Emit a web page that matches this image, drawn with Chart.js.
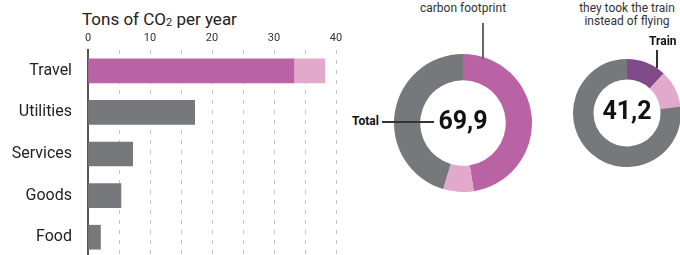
<!DOCTYPE html>
<html>
<head>
<meta charset="utf-8">
<script src="https://cdn.jsdelivr.net/npm/chart.js@4"></script>
<style>
  html, body { margin: 0; padding: 0; width: 680px; height: 255px; overflow: hidden; background: #fff; }
  body { position: relative; font-family: Roboto, "Noto Sans", sans-serif; color: #222; }
  .abs { position: absolute; }
  .note { font-size: 12px; color: #333; text-align: center; line-height: 13px; white-space: nowrap; }
  .bold { font-weight: bold; color: #111; }
  .big { font-size: 25px; font-weight: bold; color: #111; text-align: center; }
  .line { background: #333; }
  .sub { font-size: 11px; position: relative; top: 1px; }
</style>
</head>
<body>
<div class="abs" style="left:82px; top:9px; font-size:17px; color:#222; white-space:nowrap;">Tons of CO<span class="sub">2</span> per year</div>
<canvas id="bars" class="abs" style="left:0; top:0;" width="345" height="265"></canvas>

<canvas id="donut1" class="abs" style="left:394px; top:54px;" width="138" height="138"></canvas>
<div class="abs note" style="left:403px; top:2px; width:120px;">carbon footprint</div>
<div class="abs" style="left:482px; top:23px; width:2px; height:36px; background:#666;"></div>
<div class="abs bold" style="left:352px; top:114px; font-size:12px;">Total</div>
<div class="abs line" style="left:382px; top:121px; width:52px; height:1.5px;"></div>
<div class="abs big" style="left:423px; top:106px; width:80px;">69,9</div>

<canvas id="donut2" class="abs" style="left:573px; top:59px;" width="108" height="108"></canvas>
<div class="abs note" style="left:567px; top:2px; width:120px;">they took the train<br>instead of flying</div>
<div class="abs bold" style="left:649px; top:34px; font-size:12px;">Train</div>
<div class="abs line" style="left:656px; top:50px; width:1.5px; height:18px;"></div>
<div class="abs big" style="left:587px; top:96px; width:80px;">41,2</div>

<script>
// bar chart data
let categories = ["Travel", "Utilities", "Services", "Goods", "Food"];
let baseValues = [33.2, 17.2, 7.2, 5.3, 2.0];
let flightExtra = [5.0, 0, 0, 0, 0];
let xTicks = [0, 10, 20, 30, 40];

// doughnut data
let footprintLabels = ["Travel", "Flying extra", "Other"];
let footprintValues = [33.2, 5.0, 31.7];
let trainLabels = ["Train", "Travel", "Other"];
let trainValues = [4.9, 4.6, 31.7];

let magenta = "#b963a5";
let lightPink = "#e3a9cc";
let gray = "#76787b";
let purple = "#814a89";

Chart.defaults.font.family = "Roboto, 'Noto Sans', sans-serif";
Chart.defaults.animation = false;

new Chart(document.getElementById('bars'), {
    type: 'bar',
    data: {
        labels: categories,
        datasets: [{
            data: baseValues,
            backgroundColor: categories.map((c, i) => i == 0 ? magenta : gray),
            barThickness: 24
        }, {
            data: flightExtra,
            backgroundColor: lightPink,
            barThickness: 24
        }]
    },
    options: {
        indexAxis: 'y',
        responsive: false,
        layout: { padding: { left: 0, right: 9, top: 0, bottom: 7 } },
        plugins: { legend: { display: false }, tooltip: { enabled: false } },
        scales: {
            x: {
                position: 'top',
                stacked: true,
                min: 0,
                max: 40,
                afterFit: scale => {
                    scale.height = 50;
                    scale.paddingLeft = 0;
                    scale.paddingRight = 0;
                },
                ticks: {
                    stepSize: 5,
                    padding: 5,
                    color: '#333',
                    font: { size: 11 },
                    callback: v => xTicks.includes(v) ? v : ''
                },
                grid: {
                    drawTicks: false,
                    color: ctx => ctx.tick && ctx.tick.value == 0 ? 'rgba(0,0,0,0)' : '#c4c4c4',
                    lineWidth: 1
                },
                border: { display: false, dash: [4, 6] }
            },
            y: {
                stacked: true,
                afterFit: scale => {
                    scale.width = 88;
                    scale.paddingTop = 0;
                    scale.paddingBottom = 0;
                },
                ticks: { padding: 16, color: '#222', font: { size: 16 } },
                grid: { display: false, drawTicks: false },
                border: { display: true, color: '#555', width: 2 }
            }
        }
    }
});

function donut(id, labels, values, colors) {
    new Chart(document.getElementById(id), {
        type: 'doughnut',
        data: {
            labels: labels,
            datasets: [{ data: values, backgroundColor: colors, borderWidth: 0 }]
        },
        options: {
            responsive: false,
            cutout: '62%',
            plugins: { legend: { display: false }, tooltip: { enabled: false } }
        }
    });
}

donut('donut1', footprintLabels, footprintValues, [magenta, lightPink, gray]);
donut('donut2', trainLabels, trainValues, [purple, lightPink, gray]);
</script>
</body>
</html>
